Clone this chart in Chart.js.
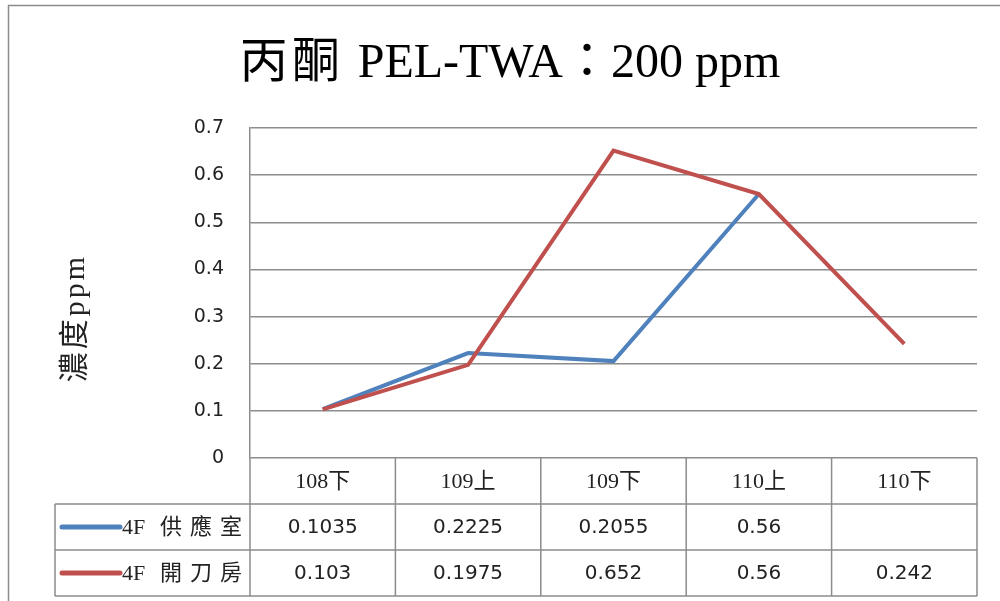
<!DOCTYPE html>
<html lang="zh-Hant">
<head>
    <meta charset="UTF-8">
    <title>丙酮 PEL-TWA：200 ppm</title>
    <script src="https://cdn.jsdelivr.net/npm/chart.js"></script>
    <style>
        body { margin: 0; background: #fff; }
        .chart-container { width: 1000px; height: 601px; }
    </style>
</head>
<body>
<div class="chart-container">
    <canvas id="acetoneChart" width="1000" height="601"></canvas>
</div>

<script>
    // 資料
    const periods = ['108下', '109上', '109下', '110上', '110下'];
    const supplyRoom = [0.1035, 0.2225, 0.2055, 0.56, null];
    const operatingRoom = [0.103, 0.1975, 0.652, 0.56, 0.242];
    const supplyRoomText = ['0.1035', '0.2225', '0.2055', '0.56', ''];
    const operatingRoomText = ['0.103', '0.1975', '0.652', '0.56', '0.242'];
    const seriesNames = ['4F 供應室', '4F 開刀房'];
    const seriesColors = ['#4F81BD', '#C0504D'];
    const chartTitle = ['丙酮', 'PEL-TWA：200 ppm'];
    const yTitle = '濃度ppm';

    const gridColor = '#8c8c8c';
    const serif = '"Liberation Serif", "Noto Sans CJK TC", serif';
    const sans = '"DejaVu Sans", Verdana, sans-serif';

    // 外框、標題、Y軸標題 + 下方資料表
    const tablePlugin = {
        id: 'dataTable',
        beforeDraw(chart) {
            const ctx = chart.ctx;
            ctx.save();
            ctx.fillStyle = '#fff';
            ctx.fillRect(0, 0, chart.width, chart.height);
            ctx.strokeStyle = gridColor;
            ctx.lineWidth = 1.5;
            ctx.strokeRect(8.5, 5.5, 1100, 800);
            ctx.restore();
        },
        afterDraw(chart) {
            const ctx = chart.ctx;
            const area = chart.chartArea;
            const xs = chart.scales.x;
            const n = periods.length;
            const w = (area.right - area.left) / n;
            const rowH = 46;
            const y0 = area.bottom;
            const y1 = y0 + rowH, y2 = y1 + rowH, y3 = y2 + rowH;
            const labelLeft = 55;

            ctx.save();

            // 標題
            ctx.fillStyle = '#000';
            ctx.textBaseline = 'middle';
            ctx.textAlign = 'left';
            ctx.font = '48px ' + serif;
            ctx.letterSpacing = '4px';
            const w1 = ctx.measureText(chartTitle[0]).width;
            ctx.letterSpacing = '0px';
            const gap = 14;
            const w2 = ctx.measureText(chartTitle[1]).width;
            let tx = 510 - (w1 + gap + w2) / 2;
            ctx.letterSpacing = '4px';
            ctx.fillText(chartTitle[0], tx, 64);
            ctx.letterSpacing = '0px';
            ctx.fillText(chartTitle[1], tx + w1 + gap, 64);

            // Y軸標題
            ctx.save();
            ctx.translate(76, 318);
            ctx.rotate(-Math.PI / 2);
            ctx.textAlign = 'center';
            ctx.fillStyle = '#222';
            ctx.font = '30px ' + serif;
            ctx.letterSpacing = '3px';
            ctx.fillText(yTitle, 0, 0);
            ctx.restore();
            ctx.letterSpacing = '0px';

            ctx.strokeStyle = gridColor;
            ctx.lineWidth = 1.5;
            ctx.beginPath();
            // 橫線
            ctx.moveTo(labelLeft, y1); ctx.lineTo(area.right, y1);
            ctx.moveTo(labelLeft, y2); ctx.lineTo(area.right, y2);
            ctx.moveTo(labelLeft, y3); ctx.lineTo(area.right, y3);
            // 直線
            for (let i = 0; i <= n; i++) {
                const bx = area.left + i * w;
                ctx.moveTo(bx, y0); ctx.lineTo(bx, y3);
            }
            ctx.moveTo(labelLeft, y1); ctx.lineTo(labelLeft, y3);
            ctx.stroke();

            ctx.textAlign = 'center';
            ctx.fillStyle = '#222';
            ctx.font = '22px ' + serif;
            periods.forEach((p, i) => {
                ctx.fillText(p, xs.getPixelForValue(i), (y0 + y1) / 2 + 1);
            });
            ctx.font = '20px ' + sans;
            [supplyRoomText, operatingRoomText].forEach((row, r) => {
                const cy = (r === 0 ? (y1 + y2) / 2 : (y2 + y3) / 2) + 1;
                row.forEach((t, i) => {
                    ctx.fillText(t, xs.getPixelForValue(i), cy);
                });
            });

            // 圖例
            seriesNames.forEach((name, r) => {
                const cy = r === 0 ? (y1 + y2) / 2 : (y2 + y3) / 2;
                ctx.strokeStyle = seriesColors[r];
                ctx.lineWidth = 5;
                ctx.lineCap = 'round';
                ctx.beginPath();
                ctx.moveTo(62, cy); ctx.lineTo(120, cy);
                ctx.stroke();
                const parts = name.split(' ');
                ctx.textAlign = 'left';
                ctx.font = '22px ' + serif;
                ctx.fillStyle = '#222';
                ctx.fillText(parts[0], 122, cy + 1);
                ctx.letterSpacing = '8px';
                ctx.fillText(parts[1], 160, cy + 1);
                ctx.letterSpacing = '0px';
            });
            ctx.restore();
        }
    };

    const ctx = document.getElementById('acetoneChart').getContext('2d');
    new Chart(ctx, {
        type: 'line',
        data: {
            labels: periods,
            datasets: [{
                label: seriesNames[0],
                data: supplyRoom,
                borderColor: seriesColors[0],
                backgroundColor: seriesColors[0],
                borderWidth: 4,
                pointRadius: 0,
                tension: 0,
                order: 1
            }, {
                label: seriesNames[1],
                data: operatingRoom,
                borderColor: seriesColors[1],
                backgroundColor: seriesColors[1],
                borderWidth: 4,
                pointRadius: 0,
                tension: 0,
                order: 0
            }]
        },
        options: {
            responsive: false,
            animation: false,
            devicePixelRatio: 1,
            layout: { padding: { left: 0, right: 23, top: 128, bottom: 143 } },
            plugins: {
                legend: { display: false },
                tooltip: { enabled: false },
                title: { display: false }
            },
            scales: {
                x: {
                    type: 'category',
                    offset: true,
                    ticks: { display: false },
                    grid: { display: false },
                    border: { display: false },
                    afterFit(scale) { scale.height = 0; }
                },
                y: {
                    min: 0,
                    max: 0.7,
                    ticks: {
                        stepSize: 0.1,
                        padding: 26,
                        color: '#222',
                        font: { family: sans, size: 19 },
                        callback: v => Math.round(v * 10) / 10
                    },
                    grid: { color: gridColor, lineWidth: 1.5, drawTicks: false },
                    border: { color: gridColor, width: 1.5 },
                    afterFit(scale) { scale.width = 250; }
                }
            }
        },
        plugins: [tablePlugin]
    });
</script>
</body>
</html>
